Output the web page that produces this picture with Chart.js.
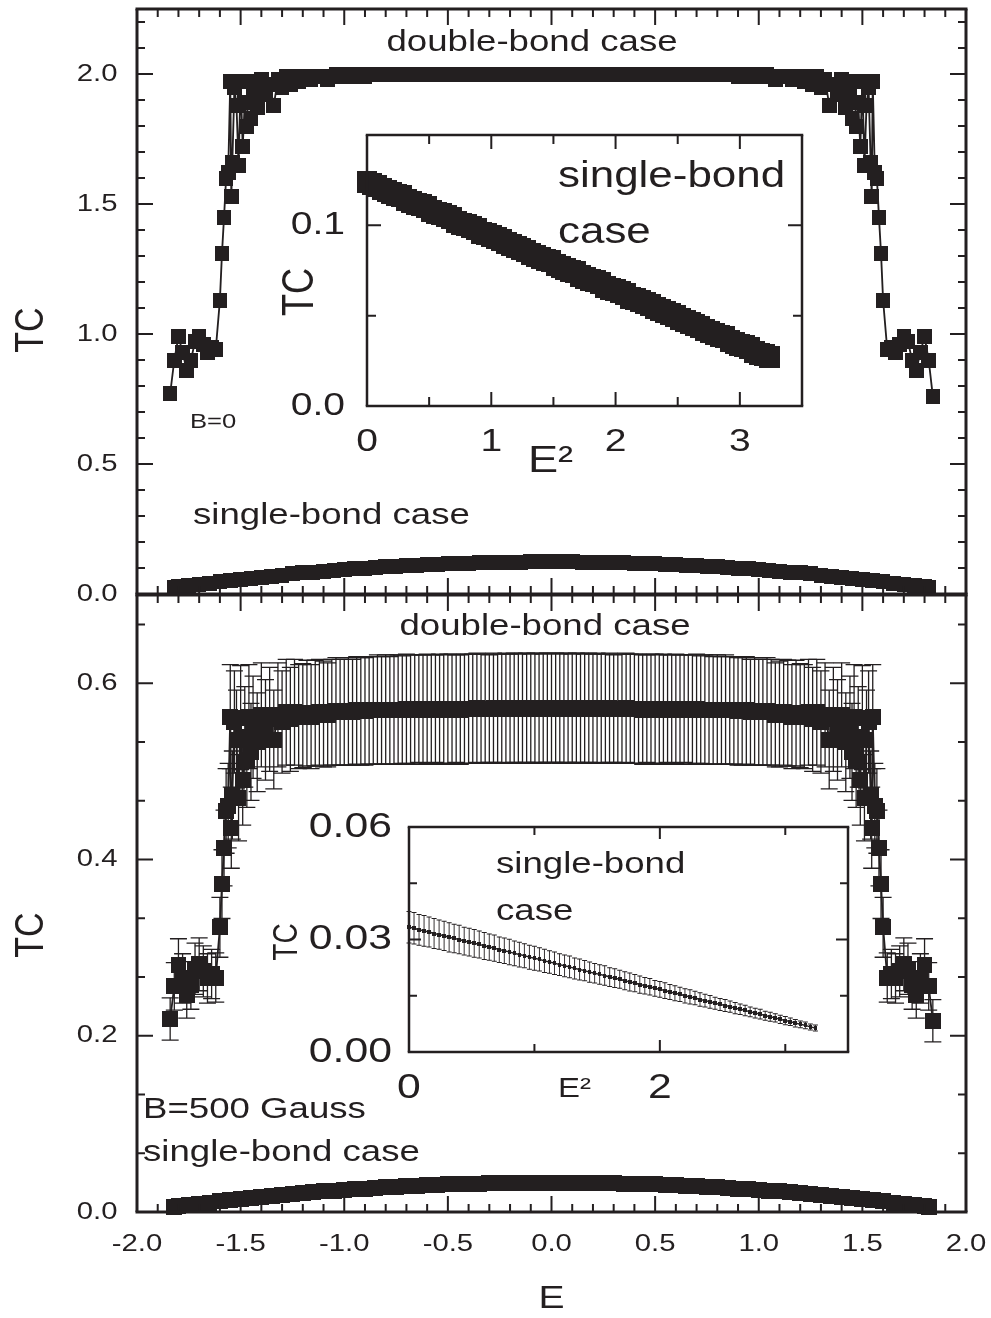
<!DOCTYPE html>
<html>
<head>
<title>TC vs E</title>
<script src="https://cdn.jsdelivr.net/npm/chart.js"></script>
<style>
body { margin: 0; background: #fff; overflow: hidden; }
#wrap { position: absolute; left: 0; top: 0; width: 991px; height: 1318px; }
#wrap canvas { position: absolute; left: 0; top: 0; }
</style>
</head>
<body>
<div id="wrap">
  <canvas id="topMain" width="991" height="1318"></canvas>
  <canvas id="botMain" width="991" height="1318"></canvas>
  <canvas id="topInset" width="991" height="1318"></canvas>
  <canvas id="botInset" width="991" height="1318"></canvas>
</div>

<script>
// ---- data ----

// double-bond case, E grid (both panels)
var dbE = [
 -1.84,-1.82,-1.80,-1.78,-1.76,-1.74,-1.72,-1.70,-1.68,-1.66,
 -1.64,-1.62,-1.60,-1.59,-1.58,-1.57,-1.56,-1.55,-1.545,-1.54,
 -1.53,-1.52,-1.51,-1.50,-1.49,-1.48,-1.47,-1.46,-1.45,-1.44,
 -1.42,-1.40,-1.38,-1.36,-1.34,-1.32,-1.30,-1.28,-1.26,-1.24,
 -1.22,
 -1.20,-1.18,-1.16,-1.14,-1.12,-1.10,-1.08,-1.06,-1.04,-1.02,
 -1.00,-0.98,-0.96,-0.94,-0.92,-0.90,-0.88,-0.86,-0.84,-0.82,
 -0.80,-0.78,-0.76,-0.74,-0.72,-0.70,-0.68,-0.66,-0.64,-0.62,
 -0.60,-0.58,-0.56,-0.54,-0.52,-0.50,-0.48,-0.46,-0.44,-0.42,
 -0.40,-0.38,-0.36,-0.34,-0.32,-0.30,-0.28,-0.26,-0.24,-0.22,
 -0.20,-0.18,-0.16,-0.14,-0.12,-0.10,-0.08,-0.06,-0.04,-0.02,
 0.00,
 0.02,0.04,0.06,0.08,0.10,0.12,0.14,0.16,0.18,0.20,
 0.22,0.24,0.26,0.28,0.30,0.32,0.34,0.36,0.38,0.40,
 0.42,0.44,0.46,0.48,0.50,0.52,0.54,0.56,0.58,0.60,
 0.62,0.64,0.66,0.68,0.70,0.72,0.74,0.76,0.78,0.80,
 0.82,0.84,0.86,0.88,0.90,0.92,0.94,0.96,0.98,1.00,
 1.02,1.04,1.06,1.08,1.10,1.12,1.14,1.16,1.18,1.20,
 1.22,1.24,1.26,1.28,1.30,1.32,1.34,1.36,1.38,1.40,
 1.42,1.44,1.45,1.46,1.47,1.48,1.49,1.50,1.51,1.52,
 1.53,1.54,1.545,1.55,1.56,1.57,1.58,1.59,1.60,1.62,
 1.64,1.66,1.68,1.70,1.72,1.74,1.76,1.78,1.80,1.82,
 1.84
];

// double-bond TC, B=0
var dbTop = [
 0.77,0.90,0.99,0.93,0.86,0.90,0.97,0.99,0.96,0.93,
 0.95,0.94,1.13,1.31,1.45,1.60,1.62,1.97,1.53,1.66,
 1.95,1.88,1.65,1.97,1.72,1.89,1.80,1.97,1.83,1.93,
 1.87,1.98,1.92,1.96,1.88,1.98,1.95,1.99,1.96,1.99,
 1.97,
 1.98,1.99,1.98,1.99,1.99,1.99,1.98,1.99,2.00,1.99,
 1.99,2.00,1.99,2.00,2.00,1.99,2.00,2.00,2.00,2.00,
 2.00,2.00,2.00,2.00,2.00,2.00,2.00,2.00,2.00,2.00,
 2.00,2.00,2.00,2.00,2.00,2.00,2.00,2.00,2.00,2.00,
 2.00,2.00,2.00,2.00,2.00,2.00,2.00,2.00,2.00,2.00,
 2.00,2.00,2.00,2.00,2.00,2.00,2.00,2.00,2.00,2.00,
 2.00,
 2.00,2.00,2.00,2.00,2.00,2.00,2.00,2.00,2.00,2.00,
 2.00,2.00,2.00,2.00,2.00,2.00,2.00,2.00,2.00,2.00,
 2.00,2.00,2.00,2.00,2.00,2.00,2.00,2.00,2.00,2.00,
 2.00,2.00,2.00,2.00,2.00,2.00,2.00,2.00,2.00,2.00,
 2.00,2.00,2.00,2.00,1.99,2.00,2.00,1.99,2.00,1.99,
 1.99,2.00,1.99,1.98,1.99,1.99,1.99,1.98,1.99,1.98,
 1.97,1.99,1.96,1.99,1.95,1.98,1.88,1.96,1.92,1.98,
 1.87,1.93,1.83,1.97,1.80,1.89,1.72,1.97,1.65,1.88,
 1.95,1.66,1.53,1.97,1.62,1.60,1.45,1.31,1.13,0.94,
 0.95,0.93,0.96,0.99,0.97,0.90,0.86,0.93,0.99,0.90,
 0.76
];

// double-bond TC, B=500 Gauss, and its error bars
var dbBot = [
 0.219,0.256,0.280,0.265,0.246,0.257,0.276,0.281,0.273,0.265,
 0.270,0.266,0.323,0.372,0.413,0.455,0.461,0.562,0.436,0.473,
 0.556,0.536,0.470,0.561,0.490,0.539,0.513,0.562,0.522,0.550,
 0.533,0.564,0.547,0.559,0.536,0.564,0.556,0.567,0.559,0.567,
 0.562,
 0.563,0.566,0.562,0.566,0.567,0.565,0.564,0.567,0.568,0.567,
 0.567,0.568,0.567,0.569,0.568,0.568,0.569,0.569,0.570,0.569,
 0.570,0.569,0.570,0.570,0.570,0.571,0.570,0.570,0.571,0.570,
 0.571,0.570,0.571,0.571,0.570,0.571,0.571,0.571,0.570,0.571,
 0.571,0.571,0.572,0.571,0.571,0.571,0.572,0.571,0.571,0.572,
 0.571,0.572,0.571,0.572,0.572,0.571,0.572,0.572,0.571,0.572,
 0.572,
 0.572,0.571,0.572,0.572,0.571,0.572,0.572,0.571,0.572,0.571,
 0.572,0.571,0.571,0.572,0.571,0.571,0.571,0.572,0.571,0.571,
 0.571,0.570,0.571,0.571,0.571,0.570,0.571,0.571,0.570,0.571,
 0.570,0.571,0.570,0.570,0.571,0.570,0.570,0.570,0.569,0.570,
 0.569,0.570,0.569,0.569,0.568,0.568,0.569,0.567,0.568,0.567,
 0.567,0.568,0.567,0.564,0.565,0.567,0.566,0.562,0.566,0.563,
 0.562,0.567,0.559,0.567,0.556,0.564,0.536,0.559,0.547,0.564,
 0.533,0.550,0.522,0.562,0.513,0.539,0.490,0.561,0.470,0.536,
 0.556,0.473,0.436,0.562,0.461,0.455,0.413,0.372,0.323,0.266,
 0.270,0.265,0.273,0.281,0.276,0.257,0.246,0.265,0.280,0.256,
 0.217
];
var dbErr = [
 0.024,0.027,0.030,0.028,0.026,0.027,0.029,0.030,0.029,0.028,
 0.028,0.028,0.034,0.039,0.043,0.048,0.048,0.059,0.046,0.050,
 0.058,0.056,0.049,0.059,0.051,0.057,0.054,0.059,0.055,0.058,
 0.056,0.059,0.057,0.059,0.056,0.059,0.058,0.060,0.059,0.060,
 0.059,
 0.059,0.060,0.059,0.060,0.060,0.060,0.059,0.060,0.061,0.060,
 0.060,0.061,0.060,0.061,0.061,0.061,0.061,0.061,0.062,0.061,
 0.062,0.061,0.062,0.062,0.061,0.062,0.062,0.062,0.061,0.062,
 0.062,0.062,0.061,0.062,0.062,0.062,0.062,0.061,0.062,0.062,
 0.062,0.062,0.062,0.062,0.062,0.061,0.062,0.062,0.062,0.062,
 0.062,0.062,0.062,0.062,0.062,0.062,0.062,0.062,0.062,0.062,
 0.062,
 0.062,0.062,0.062,0.062,0.062,0.062,0.062,0.062,0.062,0.062,
 0.062,0.062,0.062,0.062,0.061,0.062,0.062,0.062,0.062,0.062,
 0.062,0.062,0.061,0.062,0.062,0.062,0.062,0.061,0.062,0.062,
 0.062,0.061,0.062,0.062,0.062,0.061,0.062,0.062,0.061,0.062,
 0.061,0.062,0.061,0.061,0.061,0.061,0.061,0.060,0.061,0.060,
 0.060,0.061,0.060,0.059,0.060,0.060,0.060,0.059,0.060,0.059,
 0.059,0.060,0.059,0.060,0.058,0.059,0.056,0.059,0.057,0.059,
 0.056,0.058,0.055,0.059,0.054,0.057,0.051,0.059,0.049,0.056,
 0.058,0.050,0.046,0.059,0.048,0.048,0.043,0.039,0.034,0.028,
 0.028,0.028,0.029,0.030,0.029,0.027,0.026,0.028,0.030,0.027,
 0.024
];

// single-bond case, E grid (both panels)
var sbE = [
 -1.82,-1.80,-1.75,-1.70,-1.65,-1.60,-1.55,-1.50,-1.45,-1.40,
 -1.35,-1.30,-1.25,-1.20,-1.15,-1.10,-1.05,-1.00,-0.95,-0.90,
 -0.85,-0.80,-0.75,-0.70,-0.65,-0.60,-0.55,-0.50,-0.45,-0.40,
 -0.35,-0.30,-0.25,-0.20,-0.15,-0.10,-0.05,
 0.00,
 0.05,0.10,0.15,0.20,0.25,0.30,0.35,0.40,0.45,0.50,
 0.55,0.60,0.65,0.70,0.75,0.80,0.85,0.90,0.95,1.00,
 1.05,1.10,1.15,1.20,1.25,1.30,1.35,1.40,1.45,1.50,
 1.55,1.60,1.65,1.70,1.75,1.80,1.82
];
var sbTop = [
 0.025,0.027,0.032,0.037,0.042,0.047,0.052,0.057,0.061,0.065,
 0.069,0.073,0.077,0.081,0.084,0.088,0.091,0.094,0.097,0.100,
 0.102,0.105,0.107,0.109,0.111,0.113,0.115,0.117,0.118,0.119,
 0.120,0.121,0.122,0.123,0.123,0.124,0.124,
 0.124,
 0.124,0.124,0.123,0.123,0.122,0.121,0.120,0.119,0.118,0.117,
 0.115,0.113,0.111,0.109,0.107,0.105,0.102,0.100,0.097,0.094,
 0.091,0.088,0.084,0.081,0.077,0.073,0.069,0.065,0.061,0.057,
 0.052,0.047,0.042,0.037,0.032,0.027,0.025
];
var sbBot = [
 0.0058,0.0064,0.0079,0.0093,0.0107,0.0121,0.0134,0.0146,0.0158,0.0170,
 0.0182,0.0193,0.0203,0.0213,0.0223,0.0233,0.0241,0.0250,0.0258,0.0266,
 0.0273,0.0280,0.0286,0.0292,0.0298,0.0303,0.0308,0.0312,0.0316,0.0320,
 0.0323,0.0326,0.0328,0.0330,0.0331,0.0332,0.0333,
 0.0333,
 0.0333,0.0332,0.0331,0.0330,0.0328,0.0326,0.0323,0.0320,0.0316,0.0312,
 0.0308,0.0303,0.0298,0.0292,0.0286,0.0280,0.0273,0.0266,0.0258,0.0250,
 0.0241,0.0233,0.0223,0.0213,0.0203,0.0193,0.0182,0.0170,0.0158,0.0146,
 0.0134,0.0121,0.0107,0.0093,0.0079,0.0064,0.0058
];

// insets: single-bond TC against E^2
var insE2 = [
 0.00,0.04,0.08,0.12,0.16,0.20,0.24,0.28,0.32,0.36,
 0.40,0.44,0.48,0.52,0.56,0.60,0.64,0.68,0.72,0.76,
 0.80,0.84,0.88,0.92,0.96,1.00,1.04,1.08,1.12,1.16,
 1.20,1.24,1.28,1.32,1.36,1.40,1.44,1.48,1.52,1.56,
 1.60,1.64,1.68,1.72,1.76,1.80,1.84,1.88,1.92,1.96,
 2.00,2.04,2.08,2.12,2.16,2.20,2.24,2.28,2.32,2.36,
 2.40,2.44,2.48,2.52,2.56,2.60,2.64,2.68,2.72,2.76,
 2.80,2.84,2.88,2.92,2.96,3.00,3.04,3.08,3.12,3.16,
 3.20,3.24
];
var insTop = [
 0.124,0.123,0.122,0.120,0.119,0.118,0.117,0.116,0.114,0.113,
 0.112,0.111,0.110,0.108,0.107,0.106,0.105,0.104,0.102,0.101,
 0.100,0.099,0.098,0.096,0.095,0.094,0.093,0.092,0.090,0.089,
 0.088,0.087,0.086,0.084,0.083,0.082,0.081,0.080,0.078,0.077,
 0.076,0.075,0.074,0.072,0.071,0.070,0.069,0.068,0.066,0.065,
 0.064,0.063,0.062,0.060,0.059,0.058,0.057,0.056,0.054,0.053,
 0.052,0.051,0.050,0.048,0.047,0.046,0.045,0.044,0.042,0.041,
 0.040,0.039,0.038,0.036,0.035,0.034,0.033,0.032,0.030,0.029,
 0.028,0.027
];
var insBot = [
 0.0333,0.0330,0.0326,0.0323,0.0320,0.0316,0.0313,0.0310,0.0306,0.0303,
 0.0300,0.0296,0.0293,0.0290,0.0287,0.0283,0.0280,0.0277,0.0273,0.0270,
 0.0267,0.0263,0.0260,0.0257,0.0253,0.0250,0.0247,0.0243,0.0240,0.0237,
 0.0233,0.0230,0.0227,0.0223,0.0220,0.0217,0.0213,0.0210,0.0207,0.0204,
 0.0200,0.0197,0.0194,0.0190,0.0187,0.0184,0.0180,0.0177,0.0174,0.0170,
 0.0167,0.0164,0.0160,0.0157,0.0154,0.0150,0.0147,0.0144,0.0140,0.0137,
 0.0134,0.0130,0.0127,0.0124,0.0121,0.0117,0.0114,0.0111,0.0107,0.0104,
 0.0101,0.0097,0.0094,0.0091,0.0087,0.0084,0.0081,0.0077,0.0074,0.0071,
 0.0067,0.0064
];
var insErr = [
 0.0042,0.0042,0.0041,0.0041,0.0040,0.0040,0.0039,0.0039,0.0039,0.0038,
 0.0038,0.0037,0.0037,0.0037,0.0036,0.0036,0.0035,0.0035,0.0034,0.0034,
 0.0034,0.0033,0.0033,0.0032,0.0032,0.0032,0.0031,0.0031,0.0030,0.0030,
 0.0029,0.0029,0.0029,0.0028,0.0028,0.0027,0.0027,0.0026,0.0026,0.0026,
 0.0025,0.0025,0.0024,0.0024,0.0024,0.0023,0.0023,0.0022,0.0022,0.0021,
 0.0021,0.0021,0.0020,0.0020,0.0019,0.0019,0.0019,0.0018,0.0018,0.0017,
 0.0017,0.0016,0.0016,0.0016,0.0015,0.0015,0.0014,0.0014,0.0013,0.0013,
 0.0013,0.0012,0.0012,0.0011,0.0011,0.0011,0.0010,0.0010,0.0009,0.0009,
 0.0008,0.0008
];

// tick labels
var xMainTicks  = [-2.0,-1.5,-1.0,-0.5,0.0,0.5,1.0,1.5,2.0];
var yTopTicks   = [0.0,0.5,1.0,1.5,2.0];
var yBotTicks   = [0.0,0.2,0.4,0.6];
var xInsTopTicks = [0,1,2,3];
var yInsTopTicks = [0.0,0.1];
var xInsBotTicks = [0,2];
var yInsBotTicks = [0.00,0.03,0.06];

// ---- drawing ----
var INK = '#231f20';
var SX = 1.2204;          // the figure is stretched sideways by this much
var W = 991, H = 1318;
function rx(v) { return v / SX; }   // picture x pixel -> unstretched pixel

Chart.defaults.font.family = '"Liberation Sans", Arial, Helvetica, sans-serif';
Chart.defaults.color = INK;

// square marker that stays square after the stretch
function sq(w, h) {
  var c = document.createElement('canvas');
  c.width = Math.max(1, Math.round(rx(w)));
  c.height = h;
  var g = c.getContext('2d');
  g.fillStyle = INK;
  g.fillRect(0, 0, c.width, c.height);
  return c;
}

function pts(xs, ys) {
  return xs.map(function (x, i) { return {x: x, y: ys[i]}; });
}

function range(a, b, step) {   // tick positions only
  var out = [];
  for (var i = 0; a + i * step <= b + 1e-9; i++) out.push(+(a + i * step).toFixed(4));
  return out;
}
function without(list, skip) {
  return list.filter(function (v) { return !skip.some(function (s) { return Math.abs(s - v) < 1e-6; }); });
}

// stretch everything sideways (must be the last plugin in the list)
var stretchPlugin = {
  id: 'stretch',
  beforeDraw: function (chart) { chart.ctx.save(); chart.ctx.scale(SX, 1); },
  afterDraw: function (chart) { chart.ctx.restore(); }
};

// box with inward ticks on all four sides
function framePlugin(f) {
  return {
    id: 'frame',
    afterDatasetsDraw: function (chart) {
      var ctx = chart.ctx, a = chart.chartArea;
      var xs = chart.scales.x, ys = chart.scales.y;
      ctx.save();
      ctx.strokeStyle = INK;
      ctx.lineWidth = rx(f.tw);
      ctx.beginPath();
      [[f.xMajor, f.big], [f.xMinor, f.small]].forEach(function (p) {
        p[0].forEach(function (v) {
          var x = xs.getPixelForValue(v);
          ctx.moveTo(x, a.bottom); ctx.lineTo(x, a.bottom - p[1]);
          ctx.moveTo(x, a.top); ctx.lineTo(x, a.top + p[1]);
        });
      });
      ctx.stroke();
      ctx.lineWidth = f.tw;
      ctx.beginPath();
      [[f.yMajor, f.big], [f.yMinor, f.small]].forEach(function (p) {
        p[0].forEach(function (v) {
          var y = ys.getPixelForValue(v);
          ctx.moveTo(a.left, y); ctx.lineTo(a.left + rx(p[1]), y);
          ctx.moveTo(a.right, y); ctx.lineTo(a.right - rx(p[1]), y);
        });
      });
      ctx.stroke();
      var hv = rx(f.lw) / 2;
      ctx.lineWidth = f.lw;
      ctx.beginPath();
      ctx.moveTo(a.left - hv, a.top); ctx.lineTo(a.right + hv, a.top);
      ctx.moveTo(a.left - hv, a.bottom); ctx.lineTo(a.right + hv, a.bottom);
      ctx.stroke();
      ctx.lineWidth = rx(f.lw);
      ctx.beginPath();
      ctx.moveTo(a.left, a.top); ctx.lineTo(a.left, a.bottom);
      ctx.moveTo(a.right, a.top); ctx.lineTo(a.right, a.bottom);
      ctx.stroke();
      ctx.restore();
    }
  };
}

// vertical error bars with caps, under the markers
function errorPlugin(index, errs, cap, lw) {
  return {
    id: 'errbars',
    beforeDatasetsDraw: function (chart) {
      var ctx = chart.ctx, ys = chart.scales.y;
      var meta = chart.getDatasetMeta(index);
      var data = chart.data.datasets[index].data;
      var c = rx(cap) / 2;
      ctx.save();
      ctx.strokeStyle = INK;
      meta.data.forEach(function (el, i) {
        var hi = ys.getPixelForValue(data[i].y + errs[i]);
        var lo = ys.getPixelForValue(data[i].y - errs[i]);
        ctx.lineWidth = rx(lw);
        ctx.beginPath();
        ctx.moveTo(el.x, hi); ctx.lineTo(el.x, lo);
        ctx.stroke();
        ctx.lineWidth = lw;
        ctx.beginPath();
        ctx.moveTo(el.x - c, hi); ctx.lineTo(el.x + c, hi);
        ctx.moveTo(el.x - c, lo); ctx.lineTo(el.x + c, lo);
        ctx.stroke();
      });
      ctx.restore();
    }
  };
}

// free text in the panels
function notesPlugin(items) {
  return {
    id: 'notes',
    afterDraw: function (chart) {
      var ctx = chart.ctx;
      items.forEach(function (t) {
        ctx.save();
        ctx.font = t.size + 'px "Liberation Sans", Arial, Helvetica, sans-serif';
        ctx.fillStyle = INK;
        ctx.textAlign = t.align || 'left';
        ctx.textBaseline = 'middle';
        ctx.translate(t.x, t.y);
        if (t.rot) ctx.rotate(-Math.PI / 2);
        ctx.fillText(t.text, 0, 0);
        ctx.restore();
      });
    }
  };
}

function axis(ticks, opts) {
  return Object.assign({
    type: 'linear',
    grid: {display: false, drawTicks: false},
    border: {display: false},
    afterBuildTicks: function (s) { s.ticks = ticks.map(function (v) { return {value: v}; }); }
  }, opts);
}

function panel(id, box, datasets, xAxis, yAxis, plugins) {
  xAxis.afterFit = function (s) {
    s.height = H - box.b;
    s.paddingLeft = s.paddingRight = s.paddingTop = s.paddingBottom = 0;
  };
  yAxis.afterFit = function (s) {
    s.width = box.l;
    s.paddingLeft = s.paddingRight = s.paddingTop = s.paddingBottom = 0;
  };
  return new Chart(document.getElementById(id), {
    type: 'scatter',
    data: {datasets: datasets},
    options: {
      responsive: false,
      animation: false,
      devicePixelRatio: 1,
      events: [],
      layout: {autoPadding: false, padding: {left: 0, top: box.t, right: W - box.r, bottom: 0}},
      plugins: {legend: {display: false}, tooltip: {enabled: false}},
      scales: {x: xAxis, y: yAxis}
    },
    plugins: plugins.concat([stretchPlugin])
  });
}

var mainL = rx(137), mainR = rx(966);
var xMinorMain = without(range(-2, 2, 0.1), xMainTicks);

// ---- top panel, B=0 ----
panel('topMain', {l: mainL, r: mainR, t: 9, b: 594}, [
  {data: pts(dbE, dbTop), showLine: true, borderColor: INK, borderWidth: 1.5,
   pointStyle: sq(15, 15), pointRadius: 7, clip: false},
  {data: pts(sbE, sbTop), showLine: true, borderColor: INK, borderWidth: 1,
   pointStyle: sq(15, 15), pointRadius: 7, clip: false}
],
  axis(xMainTicks, {min: -2, max: 2, ticks: {display: false}}),
  axis(yTopTicks, {min: 0, max: 2.25,
    ticks: {autoSkip: false, font: {size: 24}, padding: 16, callback: function (v) { return v.toFixed(1); }}}),
  [framePlugin({lw: 3, tw: 2, big: 16, small: 8,
     xMajor: xMainTicks, xMinor: xMinorMain,
     yMajor: yTopTicks, yMinor: without(range(0, 2.2, 0.1), yTopTicks)}),
   notesPlugin([
     {text: 'double-bond case', x: rx(532), y: 43, size: 30, align: 'center'},
     {text: 'B=0', x: rx(190), y: 422, size: 21},
     {text: 'single-bond case', x: rx(193), y: 516, size: 30},
     {text: 'TC', x: rx(32), y: 330, size: 34, align: 'center', rot: true}
   ])]
);

// ---- bottom panel, B=500 Gauss ----
panel('botMain', {l: mainL, r: mainR, t: 595, b: 1212}, [
  {data: pts(dbE, dbBot), showLine: true, borderColor: INK, borderWidth: 1.5,
   pointStyle: sq(16, 16), pointRadius: 8, clip: false},
  {data: pts(sbE, sbBot), showLine: true, borderColor: INK, borderWidth: 1,
   pointStyle: sq(16, 16), pointRadius: 8, clip: false}
],
  axis(xMainTicks, {min: -2, max: 2,
    ticks: {autoSkip: false, maxRotation: 0, font: {size: 24}, padding: 18,
            callback: function (v) { return v.toFixed(1); }},
    title: {display: true, text: 'E', font: {size: 32}, color: INK, padding: {top: 0, bottom: 0}}}),
  axis(yBotTicks, {min: 0, max: 0.7,
    ticks: {autoSkip: false, font: {size: 24}, padding: 16, callback: function (v) { return v.toFixed(1); }}}),
  [errorPlugin(0, dbErr, 17, 1.3),
   framePlugin({lw: 3, tw: 2, big: 16, small: 8,
     xMajor: xMainTicks, xMinor: xMinorMain,
     yMajor: yBotTicks, yMinor: [0.2/3, 0.4/3, 0.8/3, 1.0/3, 1.4/3, 1.6/3, 2.0/3]}),
   notesPlugin([
     {text: 'double-bond case', x: rx(545), y: 627, size: 30, align: 'center'},
     {text: 'B=500 Gauss', x: rx(143), y: 1110, size: 30},
     {text: 'single-bond case', x: rx(143), y: 1153, size: 30},
     {text: 'TC', x: rx(32), y: 935, size: 34, align: 'center', rot: true}
   ])]
);

// ---- inset of the top panel ----
panel('topInset', {l: rx(367), r: rx(802), t: 135, b: 406}, [
  {data: pts(insE2, insTop), showLine: false, pointStyle: sq(21, 22), pointRadius: 10, clip: false}
],
  axis(xInsTopTicks, {min: 0, max: 3.5,
    ticks: {autoSkip: false, maxRotation: 0, font: {size: 32}, padding: 17,
            callback: function (v) { return String(v); }}}),
  axis(yInsTopTicks, {min: 0, max: 0.15,
    ticks: {autoSkip: false, font: {size: 32}, padding: 18, callback: function (v) { return v.toFixed(1); }}}),
  [framePlugin({lw: 2.5, tw: 2, big: 14, small: 9,
     xMajor: xInsTopTicks, xMinor: [0.5, 1.5, 2.5],
     yMajor: yInsTopTicks, yMinor: [0.05]}),
   notesPlugin([
     {text: 'single-bond', x: rx(558), y: 177, size: 36},
     {text: 'case', x: rx(558), y: 233, size: 36},
     {text: 'TC', x: rx(301), y: 292, size: 36, align: 'center', rot: true},
     {text: 'E\u00b2', x: rx(528), y: 462, size: 37}
   ])]
);

// ---- inset of the bottom panel ----
panel('botInset', {l: rx(409), r: rx(848), t: 827, b: 1052}, [
  {data: pts(insE2, insBot), showLine: true, borderColor: INK, borderWidth: 1.5,
   pointStyle: sq(4, 4), pointRadius: 2, clip: false}
],
  axis(xInsBotTicks, {min: 0, max: 3.5,
    ticks: {autoSkip: false, maxRotation: 0, font: {size: 35}, padding: 15,
            callback: function (v) { return String(v); }}}),
  axis(yInsBotTicks, {min: 0, max: 0.06,
    ticks: {autoSkip: false, font: {size: 35}, padding: 14, callback: function (v) { return v.toFixed(2); }}}),
  [errorPlugin(0, insErr, 5, 1),
   framePlugin({lw: 2.5, tw: 2, big: 12, small: 8,
     xMajor: xInsBotTicks, xMinor: [1, 3],
     yMajor: yInsBotTicks, yMinor: [0.015, 0.045]}),
   notesPlugin([
     {text: 'single-bond', x: rx(496), y: 865, size: 30},
     {text: 'case', x: rx(496), y: 912, size: 30},
     {text: 'TC', x: rx(288), y: 942, size: 28, align: 'center', rot: true},
     {text: 'E\u00b2', x: rx(558), y: 1090, size: 27}
   ])]
);
</script>
</body>
</html>
